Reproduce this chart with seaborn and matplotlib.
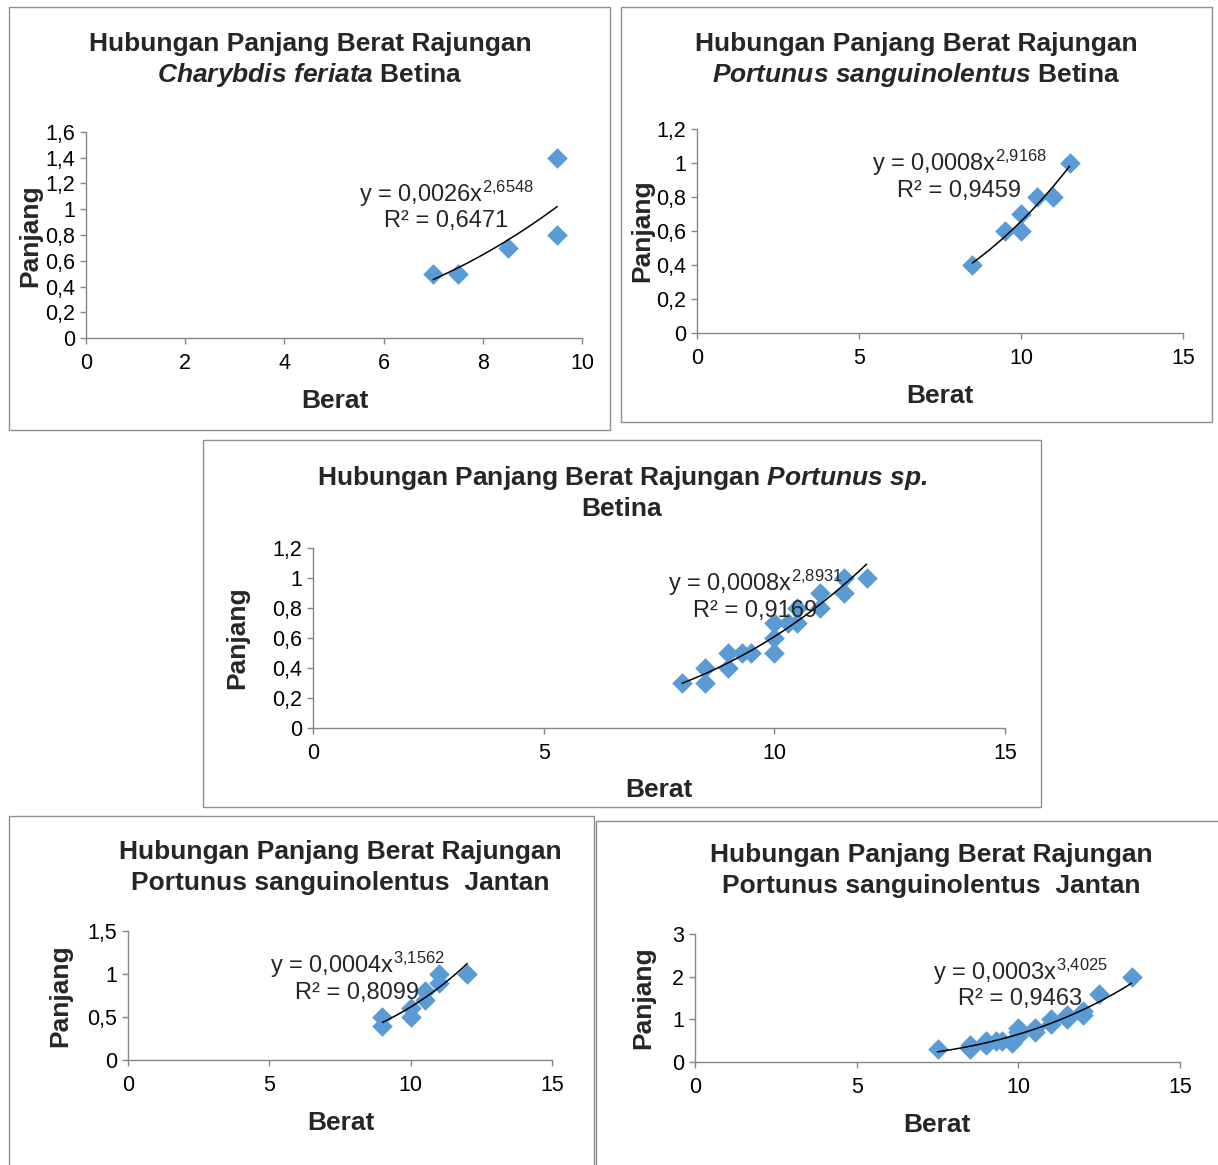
import numpy as np
import matplotlib
matplotlib.use('Agg')
import matplotlib.pyplot as plt
import seaborn as sns
from matplotlib.patches import Rectangle
from matplotlib.ticker import FuncFormatter, MultipleLocator

# data (Berat = x, Panjang = y)
cf_betina_berat = [7, 7.5, 8.5, 9.5, 9.5]
cf_betina_panjang = [0.5, 0.5, 0.7, 1.4, 0.8]

ps_betina_berat = [8.5, 9.5, 10, 10, 10.5, 11, 11.5]
ps_betina_panjang = [0.4, 0.6, 0.7, 0.6, 0.8, 0.8, 1.0]

psp_betina_berat = [8, 8.5, 8.5, 9, 9, 9.3, 9.5, 10, 10, 10, 10.3, 10.5, 10.5, 11, 11, 11.5, 11.5, 12]
psp_betina_panjang = [0.3, 0.4, 0.3, 0.5, 0.4, 0.5, 0.5, 0.7, 0.6, 0.5, 0.7, 0.8, 0.7, 0.9, 0.8, 1.0, 0.9, 1.0]

ps_jantan1_berat = [9, 9, 10, 10, 10.5, 10.5, 11, 11, 12]
ps_jantan1_panjang = [0.5, 0.4, 0.6, 0.5, 0.7, 0.8, 0.9, 1.0, 1.0]

ps_jantan2_berat = [7.5, 8.5, 8.5, 9, 9, 9.3, 9.5, 9.8, 10, 10, 10, 10.5, 10.5, 11, 11, 11.5, 11.5, 12, 12, 12.5, 13.5]
ps_jantan2_panjang = [0.3, 0.4, 0.3, 0.5, 0.4, 0.5, 0.5, 0.45, 0.8, 0.7, 0.6, 0.8, 0.7, 1.0, 0.9, 1.1, 1.0, 1.2, 1.1, 1.6, 2.0]

equations = ['2,6548', '2,9168', '2,8931', '3,1562', '3,4025']
coefs = ['0,0026', '0,0008', '0,0008', '0,0004', '0,0003']
r2_values = ['0,6471', '0,9459', '0,9169', '0,8099', '0,9463']

W, H = 1218, 1165
BLUE = '#5B9BD5'
GRAY = '#868686'

sns.set_theme(style='white')
plt.rcParams['font.family'] = ['Liberation Sans', 'DejaVu Sans']
plt.rcParams['mathtext.fontset'] = 'custom'
plt.rcParams['mathtext.rm'] = 'Liberation Sans'
plt.rcParams['mathtext.it'] = 'Liberation Sans:italic'
plt.rcParams['mathtext.bf'] = 'Liberation Sans:bold'
plt.rcParams['mathtext.bfit'] = 'Liberation Sans:italic:bold'

fig = plt.figure(figsize=(W / 100, H / 100), dpi=100)


def fx(x):
    return x / W


def fy(y):
    return 1 - y / H


def comma(v, pos):
    return f"{round(v, 2):g}".replace('.', ',')


# panel frames (chart area borders)
frames = [(9, 7, 610, 430), (621, 7, 1212, 422), (203, 440, 1041, 807),
          (9, 816, 594, 1180), (596, 821, 1230, 1180)]
for l, t, r, b in frames:
    fig.patches.append(Rectangle((fx(l), fy(b)), (r - l) / W, (b - t) / H,
                                 transform=fig.transFigure, fill=False,
                                 edgecolor='#8f8f8f', linewidth=1.0))

panels = [
    dict(x=cf_betina_berat, y=cf_betina_panjang, box=(86, 132, 582, 338),
         xmax=10, xstep=2, ymax=1.6, ystep=0.2,
         title=['Hubungan Panjang Berat Rajungan',
                r'$\mathbfit{Charybdis\ feriata}$ Betina'],
         tpos=(310, 44, 75), eqpos=(446, 194, 221),
         ylab=(30, 236), xlab=(335, 401)),
    dict(x=ps_betina_berat, y=ps_betina_panjang, box=(697, 129, 1183, 333),
         xmax=15, xstep=5, ymax=1.2, ystep=0.2,
         title=['Hubungan Panjang Berat Rajungan',
                r'$\mathbfit{Portunus\ sanguinolentus}$ Betina'],
         tpos=(916, 44, 75), eqpos=(959, 163, 191),
         ylab=(642, 231), xlab=(940, 396)),
    dict(x=psp_betina_berat, y=psp_betina_panjang, box=(313, 548, 1005, 728),
         xmax=15, xstep=5, ymax=1.2, ystep=0.2,
         title=[r'Hubungan Panjang Berat Rajungan $\mathbfit{Portunus\ sp.}$',
                'Betina'],
         tpos=(622, 478, 509), eqpos=(755, 583, 611),
         ylab=(237, 638), xlab=(659, 790)),
    dict(x=ps_jantan1_berat, y=ps_jantan1_panjang, box=(128, 931, 552, 1060),
         xmax=15, xstep=5, ymax=1.5, ystep=0.5,
         title=['Hubungan Panjang Berat Rajungan',
                'Portunus sanguinolentus  Jantan'],
         tpos=(340, 852, 883), eqpos=(357, 965, 993),
         ylab=(60, 996), xlab=(341, 1123)),
    dict(x=ps_jantan2_berat, y=ps_jantan2_panjang, box=(695, 934, 1180, 1062),
         xmax=15, xstep=5, ymax=3, ystep=1,
         title=['Hubungan Panjang Berat Rajungan',
                'Portunus sanguinolentus  Jantan'],
         tpos=(931, 855, 886), eqpos=(1020, 972, 999),
         ylab=(643, 998), xlab=(937, 1125)),
]

for i, p in enumerate(panels):
    l, t, r, b = p['box']
    ax = fig.add_axes([fx(l), fy(b), (r - l) / W, (b - t) / H])
    x = np.array(p['x'], dtype=float)
    y = np.array(p['y'], dtype=float)

    sns.scatterplot(x=x, y=y, marker='D', s=110, color=BLUE, linewidth=0,
                    ax=ax, clip_on=False, zorder=3)

    # power trendline fitted on log-log, like the spreadsheet does
    k, c = np.polyfit(np.log(x), np.log(y), 1)
    xs = np.linspace(x.min(), x.max(), 100)
    sns.lineplot(x=xs, y=np.exp(c) * xs ** k, color='black', linewidth=1.1,
                 ax=ax, zorder=4)

    ax.set_xlim(0, p['xmax'])
    ax.set_ylim(0, p['ymax'])
    ax.xaxis.set_major_locator(MultipleLocator(p['xstep']))
    ax.yaxis.set_major_locator(MultipleLocator(p['ystep']))
    ax.xaxis.set_major_formatter(FuncFormatter(comma))
    ax.yaxis.set_major_formatter(FuncFormatter(comma))
    sns.despine(ax=ax)
    for s in ['left', 'bottom']:
        ax.spines[s].set_color(GRAY)
        ax.spines[s].set_linewidth(1.0)
    ax.tick_params(axis='both', direction='out', length=4, width=1,
                   color=GRAY, labelsize=15.5, labelcolor='black')
    ax.tick_params(axis='x', pad=7, bottom=True)
    ax.tick_params(axis='y', pad=4, left=True)
    ax.set_facecolor('none')

    ax.set_xlabel('Berat', fontsize=19, fontweight='bold', va='center')
    ax.set_ylabel('Panjang', fontsize=19, fontweight='bold', va='center')
    ax.xaxis.set_label_coords(fx(p['xlab'][0]), fy(p['xlab'][1]),
                              transform=fig.transFigure)
    ax.yaxis.set_label_coords(fx(p['ylab'][0]), fy(p['ylab'][1]),
                              transform=fig.transFigure)

    tx, ty1, ty2 = p['tpos']
    fig.text(fx(tx), fy(ty1), p['title'][0], ha='center', va='center',
             fontsize=19, fontweight='bold')
    fig.text(fx(tx), fy(ty2), p['title'][1], ha='center', va='center',
             fontsize=19, fontweight='bold')

    ex, ey1, ey2 = p['eqpos']
    sup = equations[i].replace(',', '{,}')
    fig.text(fx(ex), fy(ey1), f"y = {coefs[i]}x$^{{{sup}}}$", ha='center',
             va='center', fontsize=17, zorder=5)
    fig.text(fx(ex), fy(ey2), f"R² = {r2_values[i]}", ha='center',
             va='center', fontsize=17, zorder=5)

fig.savefig('out.png', dpi=100)
